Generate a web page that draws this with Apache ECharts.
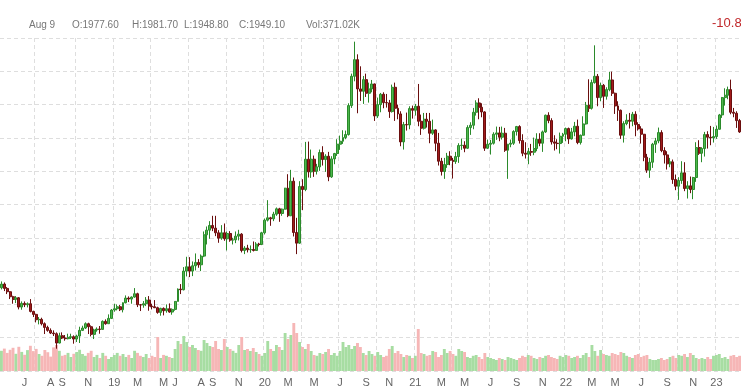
<!DOCTYPE html>
<html><head><meta charset="utf-8">
<script src="https://cdn.jsdelivr.net/npm/echarts@6/dist/echarts.min.js"></script>
<style>html,body{margin:0;padding:0;background:#fff}#c{width:741px;height:391px}</style>
</head><body><div id="c"></div>
<script>
// ---- data (weekly gold futures, Apr 2018 - Feb 2023) ----
const firstWeekUTC = Date.UTC(2018, 3, 2);
const weekCount = 256;

const opens = [1350,1361,1348,1338,1323,1315,1320,1292,1303,1299,
1302,1279,1270,1254,1255,1242,1231,1222,1214,1212,
1184,1206,1199,1197,1201,1203,1196,1205,1222,1229,
1242,1233,1210,1223,1226,1225,1249,1242,1258,1283,
1287,1293,1284,1305,1319,1316,1322,1332,1299,1298,
1302,1313,1295,1293,1290,1276,1288,1281,1287,1277,
1285,1309,1346,1344,1400,1413,1400,1416,1426,1419,
1445,1509,1523,1537,1529,1515,1499,1515,1497,1513,
1493,1494,1505,1511,1462,1469,1464,1465,1462,1481,
1480,1515,1553,1560,1557,1571,1587,1573,1586,1649,
1566,1670,1516,1484,1654,1645,1736,1698,1736,1700,
1713,1756,1735,1745,1683,1737,1753,1781,1790,1801,
1810,1897,1985,2035,1947,1940,1975,1934,1947,1962,
1866,1900,1931,1906,1905,1879,1952,1889,1872,1788,
1840,1839,1888,1883,1895,1850,1829,1856,1850,1814,
1824,1784,1730,1699,1720,1745,1733,1729,1744,1777,
1778,1769,1831,1838,1877,1905,1892,1878,1769,1781,
1784,1811,1815,1802,1814,1763,1781,1784,1819,1834,
1792,1754,1751,1759,1757,1768,1796,1784,1818,1868,
1852,1788,1784,1783,1805,1811,1828,1797,1818,1835,
1786,1808,1842,1898,1889,1966,1985,1921,1958,1925,
1945,1974,1934,1896,1883,1808,1843,1853,1850,1871,
1840,1827,1811,1742,1703,1727,1781,1791,1816,1762,
1749,1722,1728,1675,1655,1672,1695,1648,1656,1645,
1681,1771,1754,1768,1810,1802,1800,1804,1826,1869,
1921,1928,1945,1877,1874,1852];

const highs = [1369,1366,1352,1340,1326,1325,1322,1309,1309,1306,
1316,1281,1272,1262,1260,1246,1236,1228,1222,1216,
1215,1216,1208,1212,1212,1207,1209,1233,1236,1246,
1245,1237,1227,1231,1235,1252,1255,1270,1286,1302,
1300,1298,1306,1327,1324,1324,1349,1335,1301,1310,
1322,1325,1302,1313,1293,1290,1291,1300,1303,1288,
1310,1348,1361,1412,1443,1442,1429,1453,1436,1450,
1519,1534,1550,1566,1566,1523,1538,1543,1519,1520,
1500,1519,1524,1514,1475,1479,1477,1489,1487,1485,
1518,1558,1613,1563,1578,1591,1590,1588,1650,1691,
1704,1681,1560,1670,1676,1788,1789,1765,1747,1722,
1765,1775,1751,1758,1745,1755,1796,1807,1823,1822,
1904,1993,2089,2051,2015,1986,1993,1966,1974,1963,
1921,1935,1937,1932,1914,1960,1966,1900,1880,1848,
1876,1895,1897,1902,1962,1870,1875,1875,1875,1855,
1826,1815,1740,1740,1755,1760,1740,1758,1784,1798,
1790,1838,1847,1890,1913,1919,1904,1880,1795,1794,
1817,1834,1833,1834,1830,1782,1795,1823,1836,1838,
1811,1787,1770,1782,1801,1814,1814,1822,1870,1877,
1859,1808,1796,1816,1815,1831,1831,1830,1848,1855,
1810,1865,1908,1976,1975,2078,1992,1966,1962,1952,
1998,1999,1936,1910,1885,1850,1871,1875,1878,1880,
1847,1835,1812,1752,1740,1785,1800,1831,1823,1772,
1760,1740,1735,1690,1682,1730,1727,1670,1684,1683,
1787,1793,1772,1818,1820,1836,1833,1837,1872,1923,
1949,1954,1975,1890,1880,1857];

const lows = [1345,1340,1331,1316,1302,1304,1285,1284,1292,1291,
1276,1262,1246,1240,1237,1211,1218,1211,1205,1167,
1183,1196,1191,1195,1196,1182,1187,1184,1220,1226,
1211,1204,1196,1218,1212,1225,1239,1242,1256,1278,
1282,1280,1276,1303,1307,1302,1320,1292,1280,1290,
1295,1281,1285,1289,1272,1266,1267,1275,1275,1269,
1281,1309,1331,1342,1384,1382,1385,1402,1410,1400,
1442,1480,1497,1520,1505,1485,1494,1491,1462,1488,
1480,1484,1492,1456,1451,1456,1455,1459,1461,1474,
1478,1510,1549,1536,1550,1566,1548,1566,1585,1562,
1566,1504,1451,1482,1583,1640,1681,1680,1683,1690,
1701,1717,1698,1670,1680,1721,1746,1764,1782,1796,
1807,1890,1970,1874,1911,1902,1923,1906,1937,1851,
1860,1877,1889,1891,1860,1876,1851,1856,1775,1765,
1822,1826,1858,1867,1835,1809,1825,1831,1784,1809,
1760,1717,1687,1677,1710,1718,1678,1722,1725,1764,
1757,1767,1809,1826,1867,1856,1862,1761,1767,1750,
1780,1794,1790,1795,1758,1677,1772,1779,1807,1783,
1745,1738,1721,1746,1748,1760,1775,1758,1815,1844,
1780,1762,1766,1753,1785,1790,1782,1795,1805,1781,
1780,1807,1840,1878,1885,1963,1895,1910,1890,1915,
1940,1926,1872,1851,1797,1786,1838,1828,1835,1805,
1822,1783,1730,1695,1680,1710,1755,1784,1757,1723,
1705,1712,1662,1643,1614,1662,1640,1618,1634,1616,
1668,1749,1727,1744,1768,1778,1786,1797,1825,1860,
1897,1916,1871,1862,1830,1815];

const closes = [1361,1348,1338,1323,1315,1320,1292,1303,1299,1302,
1279,1270,1254,1255,1242,1231,1222,1214,1212,1184,
1206,1199,1197,1201,1203,1196,1205,1222,1229,1242,
1233,1210,1223,1226,1225,1249,1242,1258,1283,1287,
1293,1284,1305,1319,1316,1322,1332,1299,1298,1302,
1313,1295,1293,1290,1276,1288,1281,1287,1277,1285,
1309,1346,1344,1400,1413,1400,1416,1426,1419,1445,
1509,1523,1537,1529,1515,1499,1515,1497,1513,1493,
1494,1505,1511,1462,1469,1464,1465,1462,1481,1480,
1515,1553,1560,1557,1571,1587,1573,1586,1649,1566,
1670,1516,1484,1654,1645,1736,1698,1736,1700,1713,
1756,1735,1745,1683,1737,1753,1781,1790,1801,1810,
1897,1985,2035,1947,1940,1975,1934,1947,1962,1866,
1900,1931,1906,1905,1879,1952,1889,1872,1788,1840,
1839,1888,1883,1895,1850,1829,1856,1850,1814,1824,
1784,1730,1699,1720,1745,1733,1729,1744,1777,1778,
1769,1831,1838,1877,1905,1892,1878,1769,1781,1784,
1811,1815,1802,1814,1763,1781,1784,1819,1834,1792,
1754,1751,1759,1757,1768,1796,1784,1818,1868,1852,
1788,1784,1783,1805,1811,1828,1797,1818,1835,1786,
1808,1842,1898,1889,1966,1985,1921,1958,1925,1945,
1974,1934,1896,1883,1808,1843,1853,1850,1871,1840,
1827,1811,1742,1703,1727,1781,1791,1816,1762,1749,
1722,1728,1675,1655,1672,1695,1648,1656,1645,1681,
1771,1754,1768,1810,1802,1800,1804,1826,1869,1921,
1928,1945,1877,1874,1852,1818];

const volumes = [1010,1120,905,1060,1160,860,1210,955,810,1045,
1260,995,1105,850,760,1050,940,720,1180,1300,
1010,760,805,905,700,860,950,1060,850,760,
905,1010,700,805,650,905,760,600,700,800,
905,760,850,700,805,650,1010,905,760,700,
850,650,760,700,1700,650,805,760,700,650,
1100,1500,1350,1750,1450,1200,1300,1150,1050,1010,
1550,1400,1250,1200,1500,1100,1050,1600,1200,1100,
1010,905,1300,1700,1050,1100,1000,1150,950,850,
760,900,1500,1100,1000,1300,1200,1050,1900,1600,
1800,2400,1900,1450,1200,1100,1350,1000,800,760,
900,850,950,1100,800,900,760,1000,1450,1200,
1300,1100,1250,1400,1200,900,800,1000,850,760,
950,800,700,760,1100,1250,900,1000,850,700,
800,760,650,760,2100,900,850,760,800,1000,
950,700,800,1100,900,1000,850,760,1100,1000,
950,700,650,760,800,700,600,900,700,650,
600,550,650,600,550,700,650,600,550,650,
760,700,800,760,650,600,700,650,760,800,
700,650,600,760,700,800,760,650,700,760,
650,800,900,700,1300,1000,760,1050,850,800,
760,900,850,800,950,900,760,700,650,800,
850,700,760,800,600,550,550,600,650,550,
600,700,760,650,800,760,850,700,900,800,
650,600,650,600,700,600,760,800,850,650,
700,600,760,800,700,760];

const labelMonths = ['2018-06','2018-08','2018-09','2018-11',
'2019-01','2019-03','2019-05','2019-06','2019-08','2019-09','2019-11',
'2020-01','2020-03','2020-05','2020-07','2020-09','2020-11',
'2021-01','2021-03','2021-05','2021-07','2021-09','2021-11',
'2022-01','2022-03','2022-05','2022-07','2022-09','2022-11','2023-01'];
const gridMonths = [1, 4, 7, 10];
const headerTexts = ['Aug 9', 'O:1977.60', 'H:1981.70', 'L:1948.80', 'C:1949.10', 'Vol:371.02K'];
const changeText = '-10.80';

// ---- build ----
const DAY = 864e5;
function pad(n){ return n < 10 ? '0' + n : '' + n; }
const weeks = [];
for (let i = 0; i < weekCount; i++) {
  const d = new Date(firstWeekUTC + i * 7 * DAY);
  weeks.push(d.getUTCFullYear() + '-' + pad(d.getUTCMonth() + 1) + '-' + pad(d.getUTCDate()));
}
function weekOf(y, m) {
  const t = Date.UTC(y, m - 1, 1);
  for (let i = 0; i < weekCount; i++) {
    const s = firstWeekUTC + i * 7 * DAY;
    if (t >= s && t < s + 7 * DAY) return i;
  }
  return -1;
}
const labelAt = {};
labelMonths.forEach(k => {
  const [y, m] = k.split('-').map(Number);
  const i = weekOf(y, m);
  if (i >= 0) labelAt[i] = m === 1 ? String(y).slice(2) : 'JFMAMJJASOND'[m - 1];
});
const gridAt = new Set();
for (let y = 2018; y <= 2023; y++) gridMonths.forEach(m => { const i = weekOf(y, m); if (i >= 0) gridAt.add(i); });

const candles = weeks.map((w, i) => [opens[i], closes[i], lows[i], highs[i]]);
const volData = volumes.map((v, i) => ({
  value: v,
  itemStyle: { color: closes[i] >= opens[i] ? '#a7dda2' : '#f6b6b6' }
}));

const FONT = '"Liberation Sans", Arial, sans-serif';
const headerX = [29, 72, 132, 184, 239, 306];
const grid = { color: '#dedede', type: [4, 3], width: 1 };

const chart = echarts.init(document.getElementById('c'), null, { renderer: 'canvas' });
chart.setOption({
  animation: false,
  grid: [
    { left: 0, right: 0, top: 38, bottom: 20 },
    { left: 0, right: 0, bottom: 20, height: 100 }
  ],
  xAxis: [
    {
      type: 'category', data: weeks, gridIndex: 0, boundaryGap: true,
      axisLine: { show: false }, axisTick: { show: false },
      axisLabel: {
        interval: (i) => labelAt[i] !== undefined,
        formatter: (v, i) => labelAt[i] || '',
        color: '#666', fontSize: 11, fontFamily: FONT, margin: 6
      },
      splitLine: { show: true, interval: (i) => gridAt.has(i), lineStyle: grid }
    },
    { type: 'category', data: weeks, gridIndex: 1, show: false, boundaryGap: true }
  ],
  yAxis: [
    {
      type: 'value', gridIndex: 0, min: 1100, max: 2100, interval: 100,
      axisLabel: { show: false }, axisLine: { show: false }, axisTick: { show: false },
      splitLine: { show: true, lineStyle: grid }
    },
    { type: 'value', gridIndex: 1, min: 0, max: 5000, show: false, splitLine: { show: false } }
  ],
  series: [
    { type: 'bar', xAxisIndex: 1, yAxisIndex: 1, data: volData, barCategoryGap: '0%', z: 1, silent: true },
    {
      type: 'candlestick', xAxisIndex: 0, yAxisIndex: 0, data: candles, barWidth: '85%', z: 3,
      itemStyle: { color: '#4db84d', color0: '#a11b1b', borderColor: '#2b8a2b', borderColor0: '#6a0e0e', borderWidth: 1 }
    }
  ],
  graphic: headerTexts.map((t, i) => ({
    type: 'text', left: headerX[i], top: 20,
    style: { text: t, fill: '#777', font: '10px ' + FONT }
  })).concat([{
    type: 'text', left: 712, top: 17,
    style: { text: changeText, fill: '#c0282b', font: '13px ' + FONT }
  }])
});
</script>
</body></html>
